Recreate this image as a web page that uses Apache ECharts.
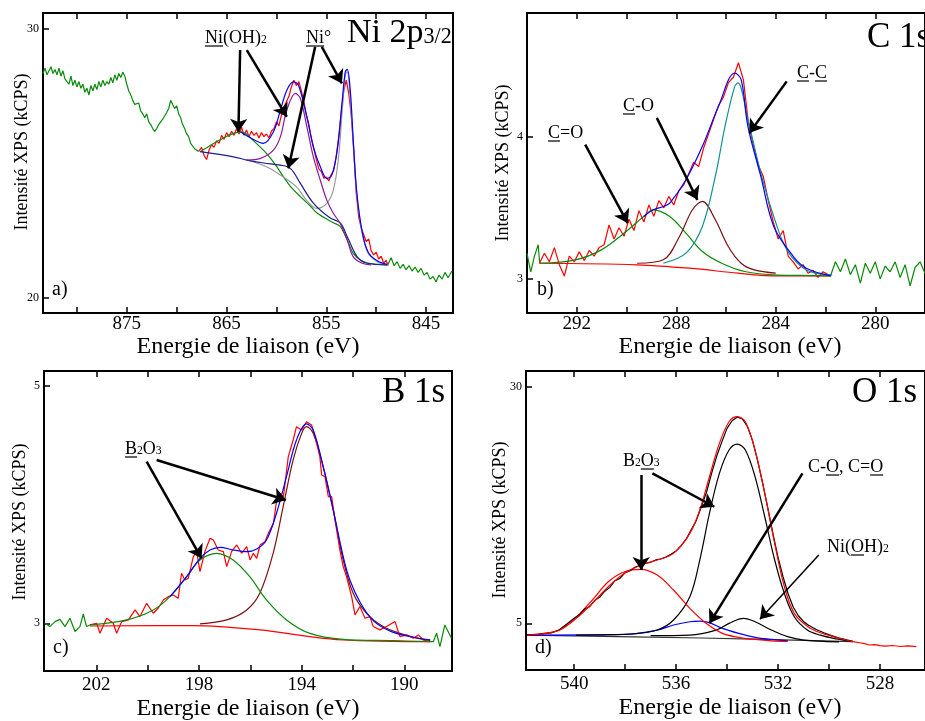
<!DOCTYPE html>
<html><head><meta charset="utf-8">
<script src="https://cdn.jsdelivr.net/npm/echarts@6/dist/echarts.min.js"></script>
<style>html,body{margin:0;padding:0;background:#fff}#c{width:925px;height:721px}</style>
</head><body><div id="c"></div><script>
// ---------- Panel a : Ni 2p3/2 ----------
const niXTicks = [845, 850, 855, 860, 865, 870, 875, 880];
const niXLabels = [845, 855, 865, 875];
const niYTicks = [20, 30];
const niRawLeft = [[883.4,28.35],[883.2,28.55],[883.0,28.3],[882.8,28.45],[882.6,28.6],[882.4,28.35],[882.2,28.5],[882.0,28.3],[881.8,28.55],[881.6,28.25],[881.4,28.45],[881.2,28.15],[881.0,28.2],[880.8,27.95],[880.6,28.25],[880.4,27.9],[880.2,28.1],[880.0,27.85],[879.8,28.05],[879.6,27.8],[879.4,27.95],[879.2,27.65],[879.0,27.8],[878.8,27.55],[878.6,27.9],[878.4,27.7],[878.2,27.95],[878.0,27.75],[877.8,28.05],[877.6,27.85],[877.4,28.1],[877.2,27.9],[877.0,28.05],[876.8,27.95],[876.6,28.2],[876.4,28.0],[876.2,28.3],[876.0,28.1],[875.8,28.35],[875.6,28.2],[875.4,28.4],[875.2,28.25],[875.0,27.95],[874.8,27.7],[874.6,27.55],[874.4,27.35],[874.2,27.2],[874.0,27.15],[873.8,27.25],[873.6,26.95],[873.4,26.85],[873.2,26.7],[873.0,26.85],[872.8,26.55],[872.6,26.45],[872.4,26.3],[872.2,26.2],[872.0,26.3],[871.8,26.45],[871.6,26.4],[871.4,26.65],[871.2,26.7],[871.0,26.9],[870.8,27.05],[870.6,27.35],[870.4,27.2],[870.2,27.05],[870.0,27.15],[869.8,26.85],[869.6,26.7],[869.4,26.45],[869.2,26.3],[869.0,26.1],[868.8,26.0],[868.6,25.75],[868.4,25.8],[868.2,25.55],[868.0,25.6],[867.8,25.45]];
const niRaw = [[867.8,25.45],[867.5,25.6],[867.25,25.3],[867.0,25.15],[866.75,25.5],[866.5,25.7],[866.25,25.6],[866.0,25.85],[865.75,25.75],[865.5,26.05],[865.25,25.9],[865.0,26.15],[864.75,26.0],[864.5,26.2],[864.25,26.05],[864.0,26.3],[863.75,26.1],[863.5,26.35],[863.25,26.05],[863.0,26.25],[862.75,26.0],[862.5,26.2],[862.25,26.05],[862.0,26.15],[861.75,25.95],[861.5,26.15],[861.25,26.0],[861.0,26.1],[860.75,25.95],[860.5,26.2],[860.25,26.3],[860.0,26.55],[859.75,26.4],[859.5,26.8],[859.25,27.1],[859.0,27.3],[858.75,27.5],[858.5,27.85],[858.25,28.1],[858.0,27.9],[857.75,28.05],[857.5,27.7],[857.25,27.3],[857.0,26.8],[856.75,26.45],[856.5,25.95],[856.25,25.55],[856.0,25.15],[855.75,24.8],[855.5,24.7],[855.25,24.45],[855.0,24.5],[854.75,24.35],[854.5,24.6],[854.25,24.75],[854.0,25.3],[853.75,26.0],[853.5,26.9],[853.25,27.7],[853.0,28.1],[852.75,27.6],[852.5,26.8],[852.25,25.5],[852.0,23.9],[851.75,23.0],[851.5,22.6],[851.25,22.35],[851.0,22.1],[850.75,22.2],[850.5,21.75],[850.25,21.6],[850.0,21.7],[849.75,21.45],[849.5,21.55],[849.25,21.3],[849.0,21.4],[848.8,21.2]];
const niRawRight = [[848.8,21.25],[848.5,21.5],[848.2,21.2],[847.9,21.35],[847.6,21.1],[847.3,21.25],[847.0,21.05],[846.7,21.2],[846.4,21.0],[846.1,21.15],[845.8,20.95],[845.5,21.1],[845.2,20.85],[844.9,20.95],[844.6,20.7],[844.3,20.8],[844.0,20.6],[843.7,20.85],[843.4,20.7],[843.1,20.95],[842.8,20.75],[842.4,21.0]];
const niGreenFit = [[867.65,25.44],[866.5,25.7],[865.3,25.95],[864.3,26.12],[863.6,26.18],[863.0,26.1],[862.3,25.85],[861.0,25.38],[860.0,24.9],[859.3,24.51],[858.6,24.15],[857.6,23.77],[856.6,23.42],[855.9,23.15],[854.3,22.8],[853.6,22.65],[852.9,22.15],[852.3,21.66],[851.6,21.42],[850.9,21.3],[848.9,21.23]];
const niNavyFit = [[867.65,25.44],[864.3,25.25],[862.97,25.13],[861.3,25.02],[859.6,24.94],[858.6,24.82],[857.6,24.26],[856.3,23.53],[854.6,22.97],[853.6,22.79],[852.9,22.28],[851.9,21.53],[851.0,21.3],[848.9,21.23]];
const niGrayFit = [[862.97,25.13],[861.0,24.88],[859.6,24.57],[858.0,24.14],[857.0,23.64],[855.95,23.33],[854.95,23.52],[854.3,24.01],[853.8,25.13],[853.4,26.99],[853.1,28.29],[852.9,28.41],[852.6,27.36],[852.3,25.75],[851.95,23.89],[851.4,22.40],[850.8,21.66],[849.9,21.35],[848.9,21.23]];
const niPurpleFit = [[862.97,25.13],[861.6,25.19],[860.3,25.5],[859.6,26.0],[858.96,26.99],[858.1,27.61],[857.6,27.42],[856.95,26.37],[856.3,25.25],[855.6,24.38],[854.95,23.64],[854.3,23.15],[853.6,22.77],[852.9,22.15],[852.3,21.53],[851.4,21.29],[850.5,21.23]];
const niBlueFit = [[863.6,26.18],[862.5,25.93],[861.3,25.75],[860.3,26.18],[859.6,26.99],[858.96,27.73],[858.3,28.04],[857.8,27.92],[856.95,26.74],[856.3,25.62],[855.6,24.88],[854.95,24.45],[854.45,24.57],[853.9,25.5],[853.4,27.36],[853.1,28.41],[852.9,28.5],[852.6,27.73],[852.3,25.87],[851.95,23.95],[851.4,22.45],[850.8,21.7],[849.9,21.38],[848.9,21.25]];
const niArrows = [[863.64,29.22,863.81,26.18],[862.97,29.22,858.96,26.74],[856.12,29.34,858.8,24.82],[855.45,29.34,853.44,27.98]];

// ---------- Panel b : C 1s ----------
const cXTicks = [280, 282, 284, 286, 288, 290, 292];
const cXLabels = [280, 284, 288, 292];
const cYTicks = [3, 4];
const cRawLeft = [[294.0,3.18],[293.85,3.05],[293.7,3.16],[293.55,3.24],[293.49,3.11]];
const cRaw = [[293.5,3.11],[293.3,3.18],[293.1,3.12],[292.9,3.22],[292.7,3.10],[292.5,3.02],[292.3,3.16],[292.1,3.12],[291.9,3.19],[291.7,3.13],[291.5,3.20],[291.3,3.16],[291.1,3.22],[290.9,3.24],[290.7,3.38],[290.5,3.28],[290.3,3.36],[290.1,3.30],[289.9,3.42],[289.7,3.34],[289.5,3.48],[289.3,3.40],[289.1,3.52],[288.9,3.44],[288.7,3.55],[288.5,3.50],[288.3,3.58],[288.1,3.52],[287.9,3.62],[287.7,3.66],[287.5,3.74],[287.3,3.82],[287.1,3.79],[286.9,3.92],[286.7,4.02],[286.5,4.12],[286.3,4.22],[286.1,4.28],[285.9,4.38],[285.7,4.42],[285.5,4.52],[285.3,4.40],[285.1,4.10],[284.9,3.94],[284.7,3.80],[284.5,3.72],[284.3,3.55],[284.1,3.40],[283.9,3.28],[283.7,3.34],[283.5,3.16],[283.3,3.12],[283.1,3.07],[282.9,3.10],[282.7,3.04],[282.5,3.06],[282.3,3.01],[282.1,3.05],[281.9,3.03],[281.8,3.02]];
const cRawRight = [[281.8,3.02],[281.6,3.12],[281.4,3.05],[281.2,3.14],[281.0,3.03],[280.8,3.10],[280.6,2.97],[280.4,3.11],[280.2,3.04],[280.0,3.12],[279.8,3.00],[279.6,3.09],[279.4,3.05],[279.2,3.12],[279.0,3.01],[278.8,3.10],[278.6,2.95],[278.4,3.08],[278.2,3.12],[278.0,3.04]];
const cBlueFit = [[289.31,3.439],[288.92,3.486],[288.52,3.509],[288.26,3.533],[287.61,3.697],[286.95,3.932],[286.30,4.214],[285.65,4.448],[285.39,4.401],[285.12,4.073],[284.60,3.721],[284.08,3.369],[283.29,3.157],[282.77,3.075],[281.79,3.021]];
const cGreenFit = [[293.49,3.11],[292.05,3.134],[291.01,3.204],[290.09,3.322],[289.31,3.439],[288.92,3.486],[288.26,3.439],[287.61,3.322],[286.95,3.193],[286.17,3.110],[285.25,3.052],[284.08,3.028],[283.0,3.024],[281.79,3.021]];
const cBrownFit = [[289.57,3.11],[288.52,3.134],[287.87,3.298],[287.35,3.486],[286.95,3.545],[286.43,3.416],[285.91,3.228],[285.39,3.110],[284.86,3.063],[284.0,3.04]];
const cTealFit = [[288.52,3.11],[287.61,3.181],[286.95,3.369],[286.43,3.721],[286.04,4.073],[285.65,4.354],[285.52,4.378],[285.12,4.120],[284.60,3.744],[284.08,3.439],[283.55,3.204],[282.77,3.063],[281.73,3.028]];
const cBaseline = [[293.49,3.11],[289.57,3.099],[287.48,3.075],[285.52,3.040],[284.21,3.021],[281.79,3.021]];
const cArrows = [[291.66,3.944,289.95,3.392],[288.78,4.132,287.15,3.556],[283.56,4.389,285.06,4.026]];

// ---------- Panel c : B 1s ----------
const bXTicks = [190, 192, 194, 196, 198, 200, 202];
const bXLabels = [190, 194, 198, 202];
const bYTicks = [3, 5];
const bRawLeft = [[204.0,3.000],[203.81,2.972],[203.61,3.014],[203.42,3.033],[203.22,2.972],[203.03,3.042],[202.83,2.930],[202.64,2.972],[202.51,3.078],[202.38,2.972],[202.25,2.986]];
const bRaw = [[202.25,2.986],[201.99,3.000],[201.86,2.916],[201.60,3.042],[201.34,3.000],[201.21,2.916],[201.01,3.014],[200.75,3.028],[200.49,3.112],[200.30,3.056],[200.04,3.168],[199.78,3.084],[199.59,3.126],[199.39,3.196],[199.20,3.224],[199.00,3.238],[198.81,3.210],[198.68,3.421],[198.55,3.364],[198.42,3.378],[198.22,3.561],[198.09,3.603],[197.96,3.435],[197.77,3.603],[197.57,3.715],[197.44,3.701],[197.25,3.617],[197.05,3.603],[196.92,3.477],[196.73,3.603],[196.53,3.659],[196.34,3.589],[196.14,3.645],[196.01,3.533],[195.88,3.589],[195.75,3.547],[195.62,3.659],[195.43,3.687],[195.30,3.757],[195.10,3.841],[194.97,4.038],[194.84,4.094],[194.71,4.066],[194.52,4.403],[194.33,4.543],[194.20,4.655],[194.00,4.627],[193.81,4.697],[193.61,4.669],[193.48,4.571],[193.29,4.403],[193.22,4.248],[193.09,4.234],[192.96,4.066],[192.83,4.066],[192.70,3.870],[192.51,3.617],[192.38,3.477],[192.25,3.393],[192.05,3.224],[191.92,3.070],[191.73,3.140],[191.53,3.042],[191.34,3.056],[191.21,2.972],[190.95,2.944],[190.69,2.972],[190.36,3.014],[190.17,2.887],[189.91,2.902],[189.65,2.873],[189.45,2.902],[189.26,2.859],[188.99,2.845]];
const bRawRight = [[188.99,2.845],[188.87,2.845],[188.74,2.916],[188.61,2.803],[188.42,2.986],[188.16,2.873]];
const bGreenFit = [[202.25,2.986],[200.82,3.028],[199.78,3.112],[199.13,3.224],[198.48,3.392],[197.96,3.533],[197.31,3.589],[196.67,3.533],[196.02,3.392],[195.37,3.196],[194.59,3.028],[193.68,2.915],[192.38,2.865],[190.43,2.854],[188.99,2.845]];
const bBlueFit = [[199.13,3.224],[198.48,3.392],[197.96,3.547],[197.57,3.617],[197.18,3.639],[196.67,3.617],[196.14,3.603],[195.75,3.625],[195.37,3.701],[194.98,3.926],[194.59,4.234],[194.20,4.543],[193.81,4.678],[193.55,4.627],[193.16,4.318],[192.77,3.954],[192.38,3.561],[192.12,3.364],[191.73,3.180],[191.2,3.02],[190.5,2.93],[189.6,2.88],[188.99,2.86]];
const bBrownFit = [[197.96,2.994],[196.92,3.028],[196.14,3.112],[195.63,3.252],[195.11,3.589],[194.72,3.982],[194.33,4.375],[194.0,4.599],[193.81,4.655],[193.55,4.599],[193.16,4.318],[192.77,3.954],[192.38,3.533],[191.99,3.252],[191.47,3.084],[190.82,2.972],[190.17,2.915],[189.4,2.87],[188.99,2.855]];
const bBaseline = [[202.25,2.977],[198.22,2.980],[195.63,2.944],[193.68,2.887],[192.38,2.859],[190.5,2.848],[188.99,2.845]];
const bArrows = [[200.04,4.360,197.90,3.547],[199.65,4.375,194.61,4.038]];

// ---------- Panel d : O 1s ----------
const oXTicks = [528, 530, 532, 534, 536, 538, 540];
const oXLabels = [528, 532, 536, 540];
const oYTicks = [5, 30];
const oRawBlack = [[541.85,3.8],[541.5,3.78],[541.2,3.92],[540.9,3.98],[540.6,4.3],[540.3,4.9],[540.0,5.55],[539.8,5.9],[539.6,6.5],[539.4,6.75],[539.2,7.4],[539.0,7.75],[538.8,8.4],[538.6,8.8],[538.4,9.5],[538.2,9.75],[538.0,10.35],[537.8,10.55],[537.6,10.95],[537.4,11.1],[537.2,11.35],[537.0,11.45],[536.8,11.7],[536.6,11.8],[536.4,12.0],[536.2,12.3],[536.0,12.65],[535.8,13.2],[535.6,13.9],[535.4,14.9],[535.2,15.9],[535.0,17.4],[534.8,18.9],[534.6,20.9],[534.4,22.7],[534.2,24.2],[534.0,25.6],[533.8,26.4],[533.6,26.8],[533.4,26.6],[533.2,25.8],[533.0,24.3],[532.8,22.2],[532.6,19.8],[532.4,17.2],[532.2,14.5],[532.0,12.0],[531.8,9.9],[531.6,8.1],[531.4,6.7],[531.2,5.8],[531.0,5.2],[530.8,4.8],[530.5,4.35],[530.2,4.0],[529.9,3.7],[529.6,3.45],[529.3,3.25],[529.06,3.1]];
const oRawRedTail = [[529.06,3.06],[528.8,2.95],[528.6,2.85],[528.42,2.71],[528.2,2.75],[528.0,2.64],[527.78,2.60],[527.5,2.66],[527.2,2.55],[526.9,2.62],[526.57,2.53]];
const oTotalFit = [[541.85,3.77],[541.2,3.9],[540.57,4.29],[539.93,5.5],[539.29,7.11],[538.66,8.87],[538.02,10.28],[537.38,11.16],[536.74,11.69],[536.10,12.39],[535.46,14.50],[535.07,16.97],[534.69,20.49],[534.30,24.01],[533.92,26.30],[533.60,26.83],[533.28,26.30],[532.90,23.31],[532.52,18.73],[532.13,13.45],[531.75,8.87],[531.36,6.05],[530.85,4.7],[530.34,4.0],[529.70,3.5],[529.06,3.06]];
const oMainFit = [[539.93,3.75],[538.6,3.8],[537.63,3.9],[536.74,4.29],[536.10,5.35],[535.46,7.81],[535.07,11.69],[534.69,16.62],[534.30,20.84],[533.92,23.31],[533.60,23.94],[533.28,23.31],[532.90,20.49],[532.52,16.26],[532.13,11.69],[531.75,8.16],[531.36,5.70],[530.85,4.3],[530.34,3.75],[529.70,3.35],[529.06,3.06]];
const oB2O3Fit = [[541.85,3.77],[541.2,3.95],[540.57,4.29],[539.93,5.6],[539.29,7.46],[538.66,9.40],[538.02,10.45],[537.38,10.70],[536.74,10.10],[536.10,8.52],[535.46,6.58],[534.82,5.00],[534.18,3.94],[533.54,3.52],[532.90,3.30],[532.26,3.15],[531.62,3.08]];
const oCOFit = [[541.85,3.76],[538.02,3.83],[536.74,4.29],[536.10,4.82],[535.46,5.17],[535.07,5.24],[534.69,5.07],[534.18,4.47],[533.54,3.94],[532.90,3.52],[532.26,3.30],[531.62,3.15]];
const oNiFit = [[537.0,3.7],[535.46,3.76],[534.43,4.29],[533.92,5.0],[533.35,5.52],[532.90,5.17],[532.26,4.29],[531.62,3.59],[530.98,3.23],[530.2,3.1],[529.6,3.05]];
const oBaseline = [[541.85,3.76],[535.0,3.45],[531.0,3.2],[529.06,3.06]];
const oArrows = [[537.37,20.67,537.37,10.63],[536.93,20.85,534.50,17.32],[531.04,20.85,534.69,5.0],[530.40,12.22,532.71,5.42]];

// ---------- build ----------
const SERIF = '"Liberation Serif","Times New Roman",serif';
const chart = echarts.init(document.getElementById('c'), null, {renderer: 'canvas'});

const panels = [
  {grid: {left: 43, top: 13, width: 410, height: 300}, x: [842.3, 883.4], y: [19.44, 30.6], xt: niXTicks, xl: niXLabels, yt: niYTicks, lm: 2},
  {grid: {left: 527, top: 13, width: 408, height: 300}, x: [278, 294], y: [2.76, 4.87], xt: cXTicks, xl: cXLabels, yt: cYTicks, lm: 2},
  {grid: {left: 44, top: 371, width: 408, height: 300}, x: [188.14, 204.04], y: [2.598, 5.124], xt: bXTicks, xl: bXLabels, yt: bYTicks, lm: 5},
  {grid: {left: 526, top: 371, width: 408, height: 299}, x: [526.23, 541.89], y: [0.07, 31.66], xt: oXTicks, xl: oXLabels, yt: oYTicks, lm: 5}
];

const grids = panels.map(p => Object.assign({show: true, borderColor: '#000', borderWidth: 2, backgroundColor: 'transparent', containLabel: false}, p.grid));
const xAxes = [];
panels.forEach((p, i) => {
  xAxes.push({type: 'value', gridIndex: i, position: 'bottom', inverse: true, min: p.x[0], max: p.x[1],
    axisLine: {show: false}, splitLine: {show: false},
    axisTick: {show: true, inside: true, length: 6, customValues: p.xt, lineStyle: {color: '#000', width: 1.5}},
    axisLabel: {show: true, customValues: p.xl, margin: p.lm, color: '#000', fontSize: 19, fontFamily: SERIF}});
});
panels.forEach((p, i) => {
  xAxes.push({type: 'value', gridIndex: i, position: 'top', inverse: true, min: p.x[0], max: p.x[1],
    axisLine: {show: false}, splitLine: {show: false},
    axisTick: {show: true, inside: true, length: 6, customValues: p.xt, lineStyle: {color: '#000', width: 1.5}},
    axisLabel: {show: false}});
});
const yAxes = panels.map((p, i) => ({type: 'value', gridIndex: i, min: p.y[0], max: p.y[1],
  axisLine: {show: false}, splitLine: {show: false},
  axisTick: {show: true, inside: true, length: 6, customValues: p.yt, lineStyle: {color: '#000', width: 1.5}},
  axisLabel: {show: true, customValues: p.yt, margin: 4, color: '#000', fontSize: 12, fontFamily: SERIF}}));

function ln(gi, data, color, opt) {
  opt = opt || {};
  return Object.assign({type: 'line', xAxisIndex: gi, yAxisIndex: gi, data: data, symbol: 'none', showSymbol: false,
    smooth: opt.smooth ? 0.35 : false, silent: true, animation: false,
    lineStyle: {color: color, width: opt.w || 1.2}, itemStyle: {color: color}, z: opt.z || 2}, opt.extra || {});
}
function arrows(list, widths) {
  return {markLine: {silent: true, animation: false, symbol: ['none', 'arrow'], symbolSize: 13,
    label: {show: false}, emphasis: {disabled: true},
    lineStyle: {color: '#000', width: 2.5, type: 'solid'},
    data: list.map((a, k) => [{coord: [a[0], a[1]], lineStyle: {color: '#000', width: (widths && widths[k]) || 2.5, type: 'solid'}}, {coord: [a[2], a[3]]}])}};
}

const RED = '#ff0000', GREEN = '#0a8a0a', BLUE = '#0000ff', NAVY = '#1c1c8c', PURPLE = '#8a1a9a', GRAY = '#999999', BROWN = '#7a1010', TEAL = '#119090';

const series = [
  // a
  ln(0, niRawLeft, GREEN),
  ln(0, niRawRight, GREEN),
  ln(0, niRaw, RED, {extra: arrows(niArrows)}),
  ln(0, niGreenFit, GREEN, {smooth: true, z: 3}),
  ln(0, niGrayFit, GRAY, {smooth: true, z: 3}),
  ln(0, niNavyFit, NAVY, {smooth: true, z: 3}),
  ln(0, niPurpleFit, PURPLE, {smooth: true, z: 3}),
  ln(0, niBlueFit, BLUE, {smooth: true, z: 4}),
  // b
  ln(1, cRawLeft, GREEN),
  ln(1, cRawRight, GREEN),
  ln(1, cBaseline, RED, {smooth: true}),
  ln(1, cRaw, RED, {extra: arrows(cArrows)}),
  ln(1, cGreenFit, GREEN, {smooth: true, z: 3}),
  ln(1, cBrownFit, BROWN, {smooth: true, z: 3}),
  ln(1, cTealFit, TEAL, {smooth: true, z: 3}),
  ln(1, cBlueFit, BLUE, {smooth: true, z: 4}),
  // c
  ln(2, bRawLeft, GREEN),
  ln(2, bRawRight, GREEN),
  ln(2, bBaseline, RED, {smooth: true}),
  ln(2, bBrownFit, BROWN, {smooth: true, z: 3}),
  ln(2, bRaw, RED, {z: 3, extra: arrows(bArrows)}),
  ln(2, bGreenFit, GREEN, {smooth: true, z: 4}),
  ln(2, bBlueFit, BLUE, {smooth: true, z: 4}),
  // d
  ln(3, oBaseline, '#333333', {smooth: true}),
  ln(3, oCOFit, BLUE, {smooth: true, z: 3}),
  ln(3, oNiFit, '#000000', {smooth: true, z: 3}),
  ln(3, oMainFit, '#000000', {smooth: true, z: 3}),
  ln(3, oB2O3Fit, RED, {smooth: true, z: 3}),
  ln(3, oRawBlack, '#000000', {z: 3, extra: arrows(oArrows, [2.5, 2.5, 2.5, 1.5])}),
  ln(3, oTotalFit, RED, {smooth: true, z: 4}),
  ln(3, oRawRedTail, RED, {z: 4})
];

// ---------- text annotations ----------
const mctx = document.createElement('canvas').getContext('2d');
function tw(t, fs) { mctx.font = fs + 'px ' + SERIF; return mctx.measureText(t).width; }
function txt(x, baseline, parts, fs, subRatio) {
  const els = []; let cx = x;
  parts.forEach(([t, k]) => {
    const f = k === 's' ? fs * (subRatio || 0.65) : fs;
    const w = tw(t, f);
    els.push({type: 'text', silent: true, z: 100, x: cx, y: baseline - 0.34 * f,
      style: {text: t, font: f + 'px ' + SERIF, fill: '#000', align: 'left', verticalAlign: 'middle', textAlign: 'left', textVerticalAlign: 'middle'}});
    if (k === 'u') els.push({type: 'line', silent: true, z: 100, shape: {x1: cx, y1: baseline + 2, x2: cx + w, y2: baseline + 2}, style: {stroke: '#000', lineWidth: 1.2}});
    cx += w;
  });
  return els;
}
function ctext(x, y, t, fs, rot) {
  return {type: 'text', silent: true, z: 100, x: x, y: y, rotation: rot || 0,
    style: {text: t, font: fs + 'px ' + SERIF, fill: '#000', align: 'center', verticalAlign: 'middle', textAlign: 'center', textVerticalAlign: 'middle'}};
}
const XNAME = 'Energie de liaison (eV)', YNAME = 'Intensité XPS (kCPS)';
let graphics = [];
graphics = graphics.concat(
  txt(205, 44, [['Ni', 'u'], ['(OH)', ''], ['2', 's']], 18),
  txt(306, 44, [['Ni', 'u'], ['°', '']], 18),
  txt(347, 45, [['Ni 2p', ''], ['3/2', 's']], 34),
  txt(548, 139, [['C', 'u'], ['=O', '']], 18),
  txt(623, 112, [['C', 'u'], ['-O', '']], 18),
  txt(797, 79, [['C', 'u'], ['-', ''], ['C', 'u']], 18),
  txt(867, 50, [['C 1s', '']], 35),
  txt(125, 455, [['B', 'u'], ['2', 's'], ['O', ''], ['3', 's']], 18),
  txt(382, 405, [['B 1s', '']], 35),
  txt(623, 467, [['B', ''], ['2', 's'], ['O', 'u'], ['3', 's']], 18),
  txt(808, 473, [['C-', ''], ['O', 'u'], [', C=', ''], ['O', 'u']], 18),
  txt(827, 553, [['Ni(', ''], ['O', 'u'], ['H)', ''], ['2', 's']], 18),
  txt(852, 405, [['O 1s', '']], 35),
  txt(52, 297, [['a)', '']], 20),
  txt(537, 297, [['b)', '']], 20),
  txt(53, 655, [['c)', '']], 20),
  txt(535, 655, [['d)', '']], 20),
  [ctext(248, 347, XNAME, 24), ctext(730, 347, XNAME, 24), ctext(248, 709, XNAME, 24), ctext(730, 708, XNAME, 24),
   ctext(22, 152, YNAME, 18, Math.PI / 2), ctext(503, 163, YNAME, 18, Math.PI / 2), ctext(20, 522, YNAME, 18, Math.PI / 2), ctext(500, 520, YNAME, 18, Math.PI / 2)]
);

chart.setOption({
  animation: false,
  backgroundColor: '#ffffff',
  grid: grids,
  xAxis: xAxes,
  yAxis: yAxes,
  series: series,
  graphic: {elements: graphics}
});
</script></body></html>
